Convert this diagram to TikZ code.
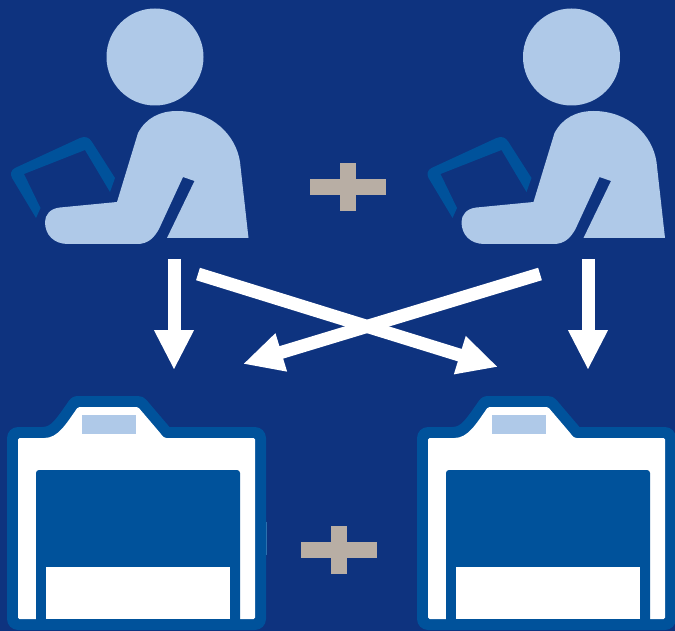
\documentclass[tikz,border=0pt]{standalone}
\usetikzlibrary{arrows.meta}
\definecolor{bgblue}{RGB}{14,51,127}
\definecolor{midblue}{RGB}{0,82,155}
\definecolor{paleblue}{RGB}{175,201,232}
\definecolor{plusgray}{RGB}{184,174,164}
\tikzset{
  bigarrow/.style={draw=white,line width=13pt,-{Triangle[length=40pt,width=37pt,fill=white]}},
  person/.pic={
    \fill[paleblue] (155,57) circle (48.5);
    % tablet frame, cut where it meets the arm
    \fill[midblue] (40.5,208)--(36,218)--(12,178)
      .. controls (10,174) and (11,170) .. (15,168)
      --(80,138)
      .. controls (85,136) and (89,137) .. (92,142)
      --(115,178)--(110,192)--(85,150)--(24,174)--cycle;
    \fill[paleblue] (117,202)--(60,207.5)
      .. controls (50,208.5) and (45,215) .. (45,222)
      .. controls (45,235) and (54,244) .. (68,244)
      --(137,244)
      .. controls (148,244) and (154,238) .. (159,229)
      --(183,177)--(194.5,181)--(167,238)--(248.5,238)--(240,162)
      .. controls (236,135) and (212,111) .. (177,111)
      .. controls (160,111) and (146,118) .. (138,133)
      --cycle;
  },
  printer/.pic={
    \draw[midblue,line width=22pt,line join=round]
      (18,438)--(43,438)
      .. controls (58,438) and (66,424) .. (78,407)
      --(138,407)--(161,434)
      .. controls (163,437) and (165,438) .. (168,438)
      --(255,438)--(255,619)--(18,619)--cycle;
    \fill[white,rounded corners=1.5pt]
      (18,438)--(43,438)
      .. controls (58,438) and (66,424) .. (78,407)
      --(138,407)--(161,434)
      .. controls (163,437) and (165,438) .. (168,438)
      --(255,438)--(255,619)--(18,619)--cycle;
    \fill[midblue,rounded corners=3pt] (36,470) rectangle (240,625);
    \fill[white] (46,567) rectangle (230,619);
    \fill[paleblue] (82,415) rectangle (136,434);
  },
  plussign/.pic={
    \fill[plusgray] (-38,-8) rectangle (38,8);
    \fill[plusgray] (-8,-24) rectangle (8,24);
  }
}
\begin{document}
\begin{tikzpicture}[x=1pt,y=-1pt]
  \useasboundingbox (0,0) rectangle (675,631);
  \fill[bgblue] (0,0) rectangle (675,631);
  \pic at (0,0) {person};
  \pic at (416.5,0) {person};
  \pic at (0,0) {printer};
  \pic at (410,0) {printer};
  \fill[midblue!75!paleblue] (265.5,522) rectangle (267,555);
  \pic at (348,187) {plussign};
  \pic at (339,549.5) {plussign};
  \coordinate (lefttop) at (174,259);
  \coordinate (leftend) at (174,370);
  \coordinate (righttop) at (588,259);
  \coordinate (rightend) at (588,370);
  \coordinate (crossa) at (198,274);
  \coordinate (crossaend) at (498,367);
  \coordinate (crossb) at (540,274);
  \coordinate (crossbend) at (243,364);
  \draw[bigarrow] (lefttop)--(leftend);
  \draw[bigarrow] (righttop)--(rightend);
  \draw[bigarrow] (crossa)--(crossaend);
  \draw[bigarrow] (crossb)--(crossbend);
\end{tikzpicture}
\end{document}
